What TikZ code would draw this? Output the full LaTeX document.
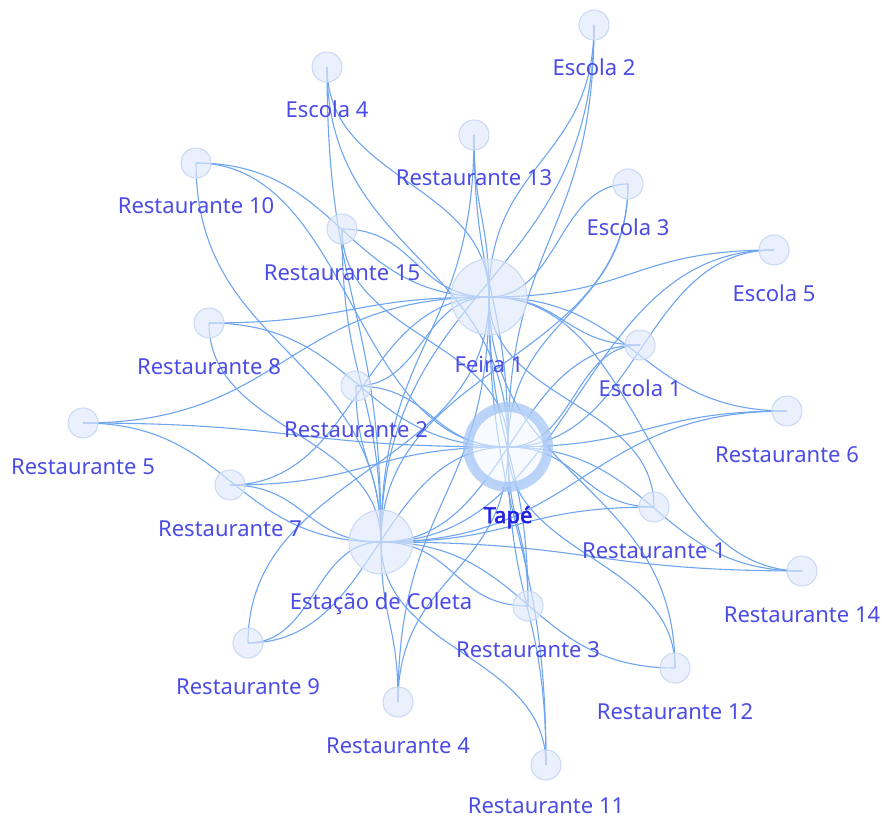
\documentclass[tikz,border=0pt]{standalone}
\usepackage{fontspec}
\newfontfamily\lblfont{Noto Sans}
\newfontfamily\tapefont[FakeBold=2.5]{Noto Sans}
\usetikzlibrary{calc}
\pgfdeclarelayer{edgelayer}
\pgfsetlayers{edgelayer,main}
\definecolor{edgecol}{RGB}{110,165,240}
\definecolor{nodefill}{RGB}{222,232,250}
\definecolor{nodeline}{RGB}{200,216,245}
\definecolor{ringcol}{RGB}{165,198,245}
\definecolor{lblcol}{RGB}{75,75,230}
\definecolor{tapecol}{RGB}{35,35,225}
\tikzset{
  leaf/.style={circle, minimum size=30pt, inner sep=0pt, fill=nodefill, fill opacity=0.65, draw=nodeline, line width=1pt},
  hub/.style={circle, inner sep=0pt, fill=nodefill, fill opacity=0.65, draw=nodeline, line width=1pt},
  ringhub/.style={circle, inner sep=0pt, minimum size=80pt, fill=white!60!nodefill, fill opacity=0.6, draw=ringcol, draw opacity=0.75, line width=10pt},
  lbl/.style={anchor=base, text=lblcol, font=\lblfont\fontsize{22}{26}\selectfont, inner sep=0pt},
  visedge/.style={draw=edgecol, line width=1.1pt},
}
\newcommand\vislink[2]{%
  \draw[visedge] let \p1=(#1.center), \p2=(#2.center),
    \n1={abs(\x2-\x1)>abs(\y2-\y1)} in
    (\p1) .. controls ({\x1+\n1*(\x2-\x1)/2},{\y1+(1-\n1)*(\y2-\y1)/2})
    and ({\x2-\n1*(\x2-\x1)/2},{\y2-(1-\n1)*(\y2-\y1)/2}) .. (\p2);}
\begin{document}
\begin{tikzpicture}[x=1pt,y=1pt]
\useasboundingbox (0,0) rectangle (882,-818);
% hubs
\node[hub, minimum size=76pt] (feira) at (489,-297) {};
\node[ringhub] (tape) at (508,-447) {};
\node[hub, minimum size=64pt] (est) at (381,-542) {};
% leaves
\foreach \nm/\px/\py in {e2/594/25, e4/327/67, r13/474/135, r10/196/163, r15/342/229,
  e3/628/184, e5/774/250, r8/209/323, e1/640/345, r2/356/386, r5/83/423,
  r6/787/411, r7/230/485, r1/654/507, r14/802/571, r3/528/606, r9/248/643,
  r12/675/668, r4/398/702, r11/546/765}
  \node[leaf] (\nm) at (\px,-\py) {};
% edges
\begin{pgfonlayer}{edgelayer}
\foreach \lf in {e1,e2,e3,e4,e5,r1,r2,r3,r4,r5,r6,r7,r8,r9,r10,r11,r12,r13,r14,r15}
  \foreach \hb in {feira,tape,est} {\vislink{\lf}{\hb}}
\end{pgfonlayer}
% labels
\foreach \nm/\tx in {e1/Escola 1, e2/Escola 2, e3/Escola 3, e4/Escola 4, e5/Escola 5,
  r1/Restaurante 1, r2/Restaurante 2, r3/Restaurante 3, r4/Restaurante 4,
  r5/Restaurante 5, r6/Restaurante 6, r7/Restaurante 7, r8/Restaurante 8,
  r9/Restaurante 9, r10/Restaurante 10, r12/Restaurante 12,
  r13/Restaurante 13, r14/Restaurante 14, r15/Restaurante 15}
  \node[lbl] (\nm-l) at ($(\nm.center)+(0,-51)$) {\tx};
\node[lbl] (r11-l) at ($(r11.center)+(0,-48)$) {Restaurante 11};
\node[lbl] (feira-l) at ($(feira.center)+(0,-75)$) {Feira 1};
\node[lbl, text=tapecol, font=\tapefont\fontsize{22}{26}\selectfont] (tape-l) at ($(tape.center)+(0,-76)$) {Tapé};
\node[lbl] (est-l) at ($(est.center)+(0,-67)$) {Estação de Coleta};
\end{tikzpicture}
\end{document}
